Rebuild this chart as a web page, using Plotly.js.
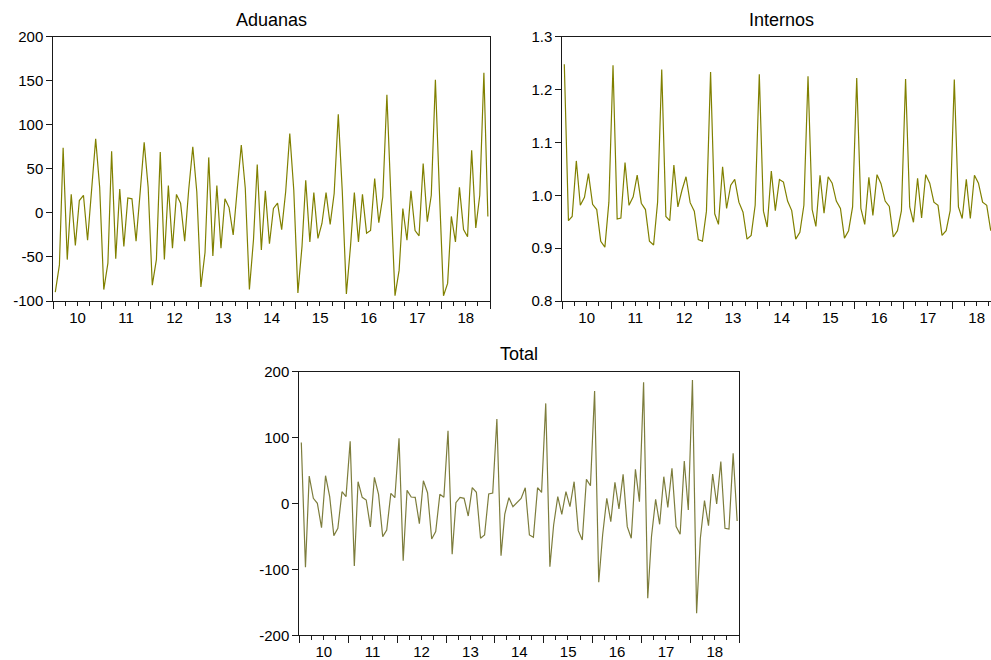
<!DOCTYPE html>
<html>
<head>
<meta charset="utf-8">
<script src="https://cdn.plot.ly/plotly-3.0.1.min.js"></script>
<style>html,body{margin:0;padding:0;background:#fff;}#chart{width:991px;height:660px;}</style>
</head>
<body>
<div id="chart"></div>
<script>
// ---- data (monthly, starting 2010M01) ----
const startYear = 2010;
const aduanas = [
  -90, -59, 74, -53, 21, -37, 14, 20, -31, 25, 84, 29,
  -87, -57, 70, -52, 27, -38, 17, 16, -32, 22, 80, 29,
  -82, -53, 69, -53, 31, -40, 21, 11, -32, 26, 75, 24,
  -84, -45, 63, -49, 31, -40, 16, 6, -25, 26, 77, 28,
  -87, -30, 55, -42, 25, -35, 5, 11, -19, 24, 90, 26,
  -91, -38, 37, -33, 23, -29, -12, 23, -13, 22, 112, 25,
  -92, -38, 23, -33, 21, -23, -20, 39, -11, 18, 134, 18,
  -94, -65, 5, -31, 25, -20, -26, 56, -10, 20, 151, 25,
  -94, -80, -4, -33, 29, -19, -27, 71, -17, 20, 159, -4
];
const internos = [
  1.248, 0.952, 0.960, 1.065, 0.981, 0.996, 1.041, 0.983, 0.973, 0.913, 0.902, 0.987,
  1.246, 0.955, 0.957, 1.062, 0.981, 0.997, 1.038, 0.985, 0.973, 0.913, 0.906, 0.987,
  1.238, 0.960, 0.952, 1.057, 0.978, 1.010, 1.035, 0.986, 0.970, 0.916, 0.913, 0.970,
  1.233, 0.965, 0.945, 1.054, 0.975, 1.019, 1.030, 0.987, 0.968, 0.917, 0.924, 0.981,
  1.229, 0.970, 0.940, 1.046, 0.971, 1.030, 1.025, 0.989, 0.971, 0.917, 0.930, 0.981,
  1.225, 0.973, 0.941, 1.038, 0.966, 1.035, 1.023, 0.989, 0.975, 0.919, 0.933, 0.978,
  1.222, 0.975, 0.945, 1.034, 0.962, 1.039, 1.022, 0.989, 0.979, 0.921, 0.933, 0.971,
  1.220, 0.978, 0.949, 1.032, 0.957, 1.039, 1.023, 0.987, 0.981, 0.924, 0.933, 0.971,
  1.219, 0.978, 0.956, 1.030, 0.956, 1.038, 1.023, 0.987, 0.981, 0.933
];
const total = [
  92.7, -96.8, 41.7, 7.8, 0.3, -36.7, 42.2, 10.4, -48.8, -37.7, 17.9, 10.4,
  94.3, -94.8, 33.1, 9.4, 5.3, -35.6, 39.7, 13.9, -50.3, -40.2, 15.4, 8.8,
  98.8, -86.7, 20.0, 9.9, 9.4, -30.6, 34.6, 16.4, -53.8, -42.7, 13.9, 9.4,
  110.4, -77.1, 1.3, 9.4, 7.8, -19.0, 24.0, 16.9, -52.8, -47.8, 14.4, 15.9,
  128.2, -79.1, -15.9, 8.8, -4.8, 1.3, 7.8, 24.0, -47.8, -51.3, 24.0, 16.9,
  151.9, -95.8, -32.6, 10.4, -16.4, 17.9, -4.8, 33.1, -41.2, -55.4, 36.7, 27.0,
  170.6, -119.6, -47.8, 7.8, -27.6, 32.1, -8.3, 44.2, -35.1, -52.8, 51.8, 2.8,
  183.8, -143.9, -50.0, 6.3, -31.6, 40.7, -5.8, 53.3, -35.1, -46.8, 64.5, -9.9,
  187.3, -166.6, -52.8, 4.3, -33.6, 44.7, -0.8, 63.5, -37.7, -38.7, 76.1, -26.5
];
const titles = ['Aduanas', 'Internos', 'Total'];
const aduanasTicks = [-100, -50, 0, 50, 100, 150, 200];
const aduanasTickText = ['-100', '-50', '0', '50', '100', '150', '200'];
const internosTicks = [0.8, 0.9, 1.0, 1.1, 1.2, 1.3];
const internosTickText = ['0.8', '0.9', '1.0', '1.1', '1.2', '1.3'];
const totalTicks = [-200, -100, 0, 100, 200];
const totalTickText = ['-200', '-100', '0', '100', '200'];

// month-centre dates for the time index
function monthDates(n) {
  const out = [];
  for (let i = 0; i < n; i++) {
    const y = startYear + Math.floor(i / 12);
    const m = (i % 12) + 1;
    out.push(y + '-' + String(m).padStart(2, '0') + '-16');
  }
  return out;
}

const FONT = 'Liberation Sans, Arial, Helvetica, sans-serif';
const AXC = '#1a1a1a';

function xAxis(domain, anchor, range) {
  return {
    type: 'date', domain: domain, anchor: anchor, range: range,
    tick0: '2010-01-01', dtick: 'M12', tickformat: '%y', ticklabelmode: 'period',
    ticks: 'outside', ticklen: 7, tickwidth: 1, tickcolor: AXC, ticklabelstandoff: -4,
    minor: {dtick: 'M3', tick0: '2010-01-01', ticks: 'outside', ticklen: 4, tickwidth: 1, tickcolor: AXC, showgrid: false},
    showgrid: false, zeroline: false, showline: true, linecolor: AXC, linewidth: 1, mirror: true,
    tickfont: {family: FONT, size: 15, color: '#000'}, fixedrange: true
  };
}
function yAxis(domain, anchor, range, vals, text, mirror) {
  return {
    domain: domain, anchor: anchor, range: range,
    tickmode: 'array', tickvals: vals, ticktext: text,
    ticks: 'outside', ticklen: 6, tickwidth: 1, tickcolor: AXC,
    showgrid: false, zeroline: false, showline: true, linecolor: AXC, linewidth: 1, mirror: mirror,
    tickfont: {family: FONT, size: 15, color: '#000'}, fixedrange: true
  };
}

const traces = [
  {x: monthDates(aduanas.length), y: aduanas, xaxis: 'x', yaxis: 'y', type: 'scatter', mode: 'lines',
   line: {color: '#808000', width: 1.2}, hoverinfo: 'skip'},
  {x: monthDates(internos.length), y: internos, xaxis: 'x2', yaxis: 'y2', type: 'scatter', mode: 'lines',
   line: {color: '#808000', width: 1.2}, hoverinfo: 'skip'},
  {x: monthDates(total.length), y: total, xaxis: 'x3', yaxis: 'y3', type: 'scatter', mode: 'lines',
   line: {color: '#7d7d3c', width: 1.2}, hoverinfo: 'skip'}
];

const W = 991, H = 660;
const layout = {
  width: W, height: H, margin: {l: 0, r: 0, t: 0, b: 0}, showlegend: false,
  paper_bgcolor: '#fff', plot_bgcolor: '#fff',
  font: {family: FONT, size: 15, color: '#000'},
  xaxis: xAxis([53.3 / W, 490 / W], 'y', ['2010-01-01', '2019-01-01']),
  yaxis: yAxis([(H - 301) / H, (H - 36.7) / H], 'x', [-100, 200], aduanasTicks, aduanasTickText, true),
  xaxis2: xAxis([562.3 / W, 1], 'y2', ['2010-01-01', '2018-10-18']),
  yaxis2: yAxis([(H - 301) / H, (H - 36.7) / H], 'x2', [0.8, 1.3], internosTicks, internosTickText, false),
  xaxis3: xAxis([299.3 / W, 739.3 / W], 'y3', ['2010-01-01', '2019-01-01']),
  yaxis3: yAxis([(H - 635.3) / H, (H - 371.7) / H], 'x3', [-200, 200], totalTicks, totalTickText, true),
  annotations: [
    {text: titles[0], x: 271.6 / W, y: (H - 20) / H, xref: 'paper', yref: 'paper', showarrow: false,
     xanchor: 'center', yanchor: 'middle', font: {family: FONT, size: 18, color: '#000'}},
    {text: titles[1], x: 781 / W, y: (H - 20) / H, xref: 'paper', yref: 'paper', showarrow: false,
     xanchor: 'center', yanchor: 'middle', font: {family: FONT, size: 18, color: '#000'}},
    {text: titles[2], x: 519.3 / W, y: (H - 354) / H, xref: 'paper', yref: 'paper', showarrow: false,
     xanchor: 'center', yanchor: 'middle', font: {family: FONT, size: 18, color: '#000'}}
  ]
};

Plotly.newPlot('chart', traces, layout, {staticPlot: true, displayModeBar: false});
</script>
</body>
</html>
